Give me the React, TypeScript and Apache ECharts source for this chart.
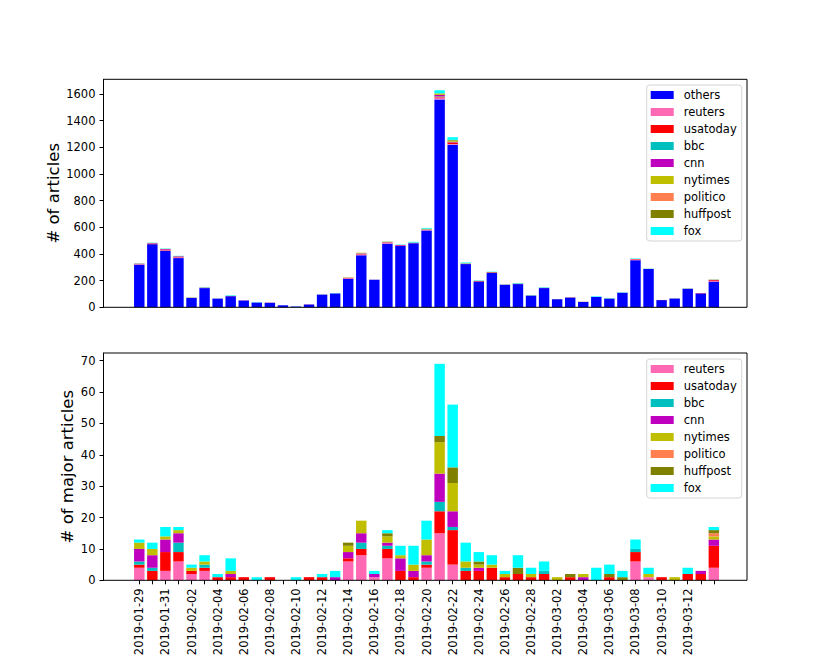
import React, { useEffect, useRef } from "react";
import * as echarts from "echarts";

const dates = [
  "2019-01-29", "2019-01-30", "2019-01-31", "2019-02-01", "2019-02-02", "2019-02-03",
  "2019-02-04", "2019-02-05", "2019-02-06", "2019-02-07", "2019-02-08", "2019-02-09",
  "2019-02-10", "2019-02-11", "2019-02-12", "2019-02-13", "2019-02-14", "2019-02-15",
  "2019-02-16", "2019-02-17", "2019-02-18", "2019-02-19", "2019-02-20", "2019-02-21",
  "2019-02-22", "2019-02-23", "2019-02-24", "2019-02-25", "2019-02-26", "2019-02-27",
  "2019-02-28", "2019-03-01", "2019-03-02", "2019-03-03", "2019-03-04", "2019-03-05",
  "2019-03-06", "2019-03-07", "2019-03-08", "2019-03-09", "2019-03-10", "2019-03-11",
  "2019-03-12", "2019-03-13", "2019-03-14",
];

// dates that carry a tick label on the lower axis
const labelledDates = [
  "2019-01-29", "2019-01-31", "2019-02-02", "2019-02-04", "2019-02-06", "2019-02-08",
  "2019-02-10", "2019-02-12", "2019-02-14", "2019-02-16", "2019-02-18", "2019-02-20",
  "2019-02-22", "2019-02-24", "2019-02-26", "2019-02-28", "2019-03-02", "2019-03-04",
  "2019-03-06", "2019-03-08", "2019-03-10", "2019-03-12",
];

const others = [317, 473, 424, 369, 70, 144, 65, 83, 51, 36, 34, 15, 6, 21, 95, 104, 212, 390, 206, 477, 460, 480, 576, 1558, 1219, 324, 193, 259, 169, 174, 88, 144, 61, 73, 40, 78, 65, 109, 353, 287, 54, 66, 138, 104, 192];
const reuters = [4, 0, 3, 6, 2, 3, 0, 0, 0, 0, 0, 0, 0, 0, 0, 0, 6, 8, 1, 7, 0, 0, 4, 15, 5, 0, 0, 0, 0, 0, 0, 0, 0, 0, 0, 0, 0, 0, 6, 1, 0, 0, 0, 0, 4];
const usatoday = [1, 3, 6, 3, 1, 1, 1, 1, 1, 0, 1, 0, 0, 1, 1, 0, 1, 2, 0, 3, 3, 1, 1, 7, 11, 3, 3, 4, 1, 2, 1, 2, 0, 1, 0, 0, 1, 0, 3, 0, 1, 0, 2, 2, 7];
const bbc = [1, 1, 0, 3, 0, 1, 0, 0, 0, 0, 0, 0, 0, 0, 0, 0, 0, 2, 0, 1, 0, 0, 1, 3, 1, 1, 0, 0, 0, 0, 0, 1, 0, 0, 0, 0, 0, 0, 1, 0, 0, 0, 0, 0, 0];
const cnn = [4, 4, 4, 3, 0, 0, 0, 1, 0, 0, 0, 0, 0, 0, 0, 1, 2, 3, 1, 1, 4, 2, 2, 9, 5, 0, 1, 0, 0, 0, 0, 0, 0, 0, 1, 0, 0, 0, 0, 0, 0, 0, 0, 1, 2];
const nytimes = [2, 2, 1, 1, 1, 1, 0, 1, 0, 0, 0, 0, 0, 0, 0, 0, 2, 4, 0, 2, 1, 2, 5, 10, 9, 2, 1, 1, 1, 0, 1, 0, 1, 0, 1, 0, 0, 0, 0, 1, 0, 1, 0, 0, 1];
const politico = [0, 0, 0, 0, 0, 0, 0, 0, 0, 0, 0, 0, 0, 0, 0, 0, 0, 0, 0, 0, 0, 0, 0, 0, 0, 0, 0, 0, 0, 0, 0, 0, 0, 0, 0, 0, 0, 0, 0, 0, 0, 0, 0, 0, 1];
const huffpost = [0, 0, 0, 0, 0, 0, 0, 0, 0, 0, 0, 0, 0, 0, 0, 0, 1, 0, 0, 1, 0, 0, 0, 2, 5, 0, 1, 0, 0, 2, 0, 0, 0, 1, 0, 0, 1, 1, 0, 0, 0, 0, 0, 0, 1];
const fox = [1, 2, 3, 1, 1, 2, 1, 4, 0, 1, 0, 0, 1, 0, 1, 2, 0, 0, 1, 1, 3, 6, 6, 23, 20, 6, 3, 3, 1, 4, 2, 3, 0, 0, 0, 4, 3, 2, 3, 2, 0, 0, 2, 0, 1];

const topTicks = [0, 200, 400, 600, 800, 1000, 1200, 1400, 1600];
const bottomTicks = [0, 10, 20, 30, 40, 50, 60, 70];

const sources = [
  { name: "reuters", color: "#ff69b4", data: reuters },
  { name: "usatoday", color: "#ff0000", data: usatoday },
  { name: "bbc", color: "#00bfbf", data: bbc },
  { name: "cnn", color: "#bf00bf", data: cnn },
  { name: "nytimes", color: "#bfbf00", data: nytimes },
  { name: "politico", color: "#ff7f50", data: politico },
  { name: "huffpost", color: "#808000", data: huffpost },
  { name: "fox", color: "#00ffff", data: fox },
];

const FONT = "DejaVu Sans";

export default function App() {
  const ref = useRef<HTMLDivElement>(null);
  useEffect(() => {
    if (!ref.current) return;
    const chart = echarts.init(ref.current, null, { renderer: "svg" });

    // matplotlib-like frame (axes box) and data area with 5% margins
    const frameL = 103.5;
    const frameW = 643.5;
    const topT = 79.3;
    const topH = 228;
    const botT = 353;
    const botH = 227.3;
    const unit = frameW / 49.28;
    const dataL = frameL + 2.24 * unit;
    const dataW = 45 * unit;
    const yOffset = dataL - frameL;
    const barW = 0.8 * unit;

    const yCommon = (ticks: number[], max: number, name: string, gap: number, idx: number) => ({
      type: "value",
      gridIndex: idx,
      min: 0,
      max,
      offset: yOffset,
      name,
      nameLocation: "middle",
      nameGap: gap,
      nameMoveOverlap: false,
      nameTextStyle: { fontFamily: FONT, fontSize: 16.5, color: "#000" },
      axisLine: { show: true, onZero: false, lineStyle: { color: "#000", width: 1 } },
      axisTick: { show: true, length: 4, lineStyle: { color: "#000", width: 1 }, customValues: ticks },
      axisLabel: {
        fontFamily: FONT,
        fontSize: 11.5,
        color: "#000",
        margin: 8,
        customValues: ticks,
        formatter: (v: number) => String(v),
      },
      splitLine: { show: false },
    });
    const legendCommon = {
      orient: "vertical",
      left: 646.7,
      itemWidth: 23,
      itemHeight: 8,
      itemGap: 5,
      icon: "rect",
      selectedMode: false,
      padding: [4, 5, 4, 4],
      borderColor: "#d4d4d4",
      borderWidth: 1,
      borderRadius: 3,
      backgroundColor: "rgba(255,255,255,0.8)",
      textStyle: { fontFamily: FONT, fontSize: 11.5, color: "#000", lineHeight: 12, padding: [0, 0, 0, 5] },
    };
    const series: any[] = [];
    series.push({
      type: "bar",
      name: "others",
      xAxisIndex: 0,
      yAxisIndex: 0,
      stack: "top",
      barWidth: barW,
      itemStyle: { color: "#0000ff" },
      data: others,
    });
    sources.forEach((s) =>
      series.push({
        type: "bar",
        name: s.name,
        xAxisIndex: 0,
        yAxisIndex: 0,
        stack: "top",
        barWidth: barW,
        itemStyle: { color: s.color },
        data: s.data,
      })
    );
    sources.forEach((s) =>
      series.push({
        type: "bar",
        name: s.name,
        xAxisIndex: 1,
        yAxisIndex: 1,
        stack: "bottom",
        barWidth: barW,
        itemStyle: { color: s.color },
        data: s.data,
      })
    );
    chart.setOption({
      animation: false,
      textStyle: { fontFamily: FONT },
      grid: [
        { left: dataL, top: topT, width: dataW, height: topH },
        { left: dataL, top: botT, width: dataW, height: botH },
      ],
      xAxis: [
        {
          type: "category",
          gridIndex: 0,
          data: dates,
          boundaryGap: true,
          axisLine: { show: false },
          axisTick: { show: false },
          axisLabel: { show: false },
          splitLine: { show: false },
        },
        {
          type: "category",
          gridIndex: 1,
          data: dates,
          boundaryGap: true,
          axisLine: { show: false },
          axisTick: {
            show: true,
            alignWithLabel: true,
            interval: 0,
            length: 4,
            lineStyle: { color: "#000", width: 1 },
          },
          axisLabel: {
            show: true,
            interval: (_i: number, value: string) => labelledDates.includes(value),
            rotate: 90,
            margin: 8,
            fontFamily: FONT,
            fontSize: 11.5,
            color: "#000",
          },
          splitLine: { show: false },
        },
      ],
      yAxis: [
        yCommon(topTicks, 1709, "# of articles", 42, 0),
        yCommon(bottomTicks, 72.45, "# of major articles", 28, 1),
      ],
      legend: [
        { ...legendCommon, top: 85, data: ["others", ...sources.map((s) => s.name)] },
        { ...legendCommon, top: 359, data: sources.map((s) => s.name) },
      ],
      graphic: [
        {
          type: "rect",
          silent: true,
          z: 10,
          shape: { x: frameL, y: topT, width: frameW, height: topH },
          style: { fill: "none", stroke: "#000", lineWidth: 1 },
        },
        {
          type: "rect",
          silent: true,
          z: 10,
          shape: { x: frameL, y: botT, width: frameW, height: botH },
          style: { fill: "none", stroke: "#000", lineWidth: 1 },
        },
      ],
      series,
    });
    return () => chart.dispose();
  }, []);
  return (
    <div
      ref={ref}
      style={{ position: "fixed", left: 0, top: 0, width: 830, height: 664, background: "#fff" }}
    />
  );
}
